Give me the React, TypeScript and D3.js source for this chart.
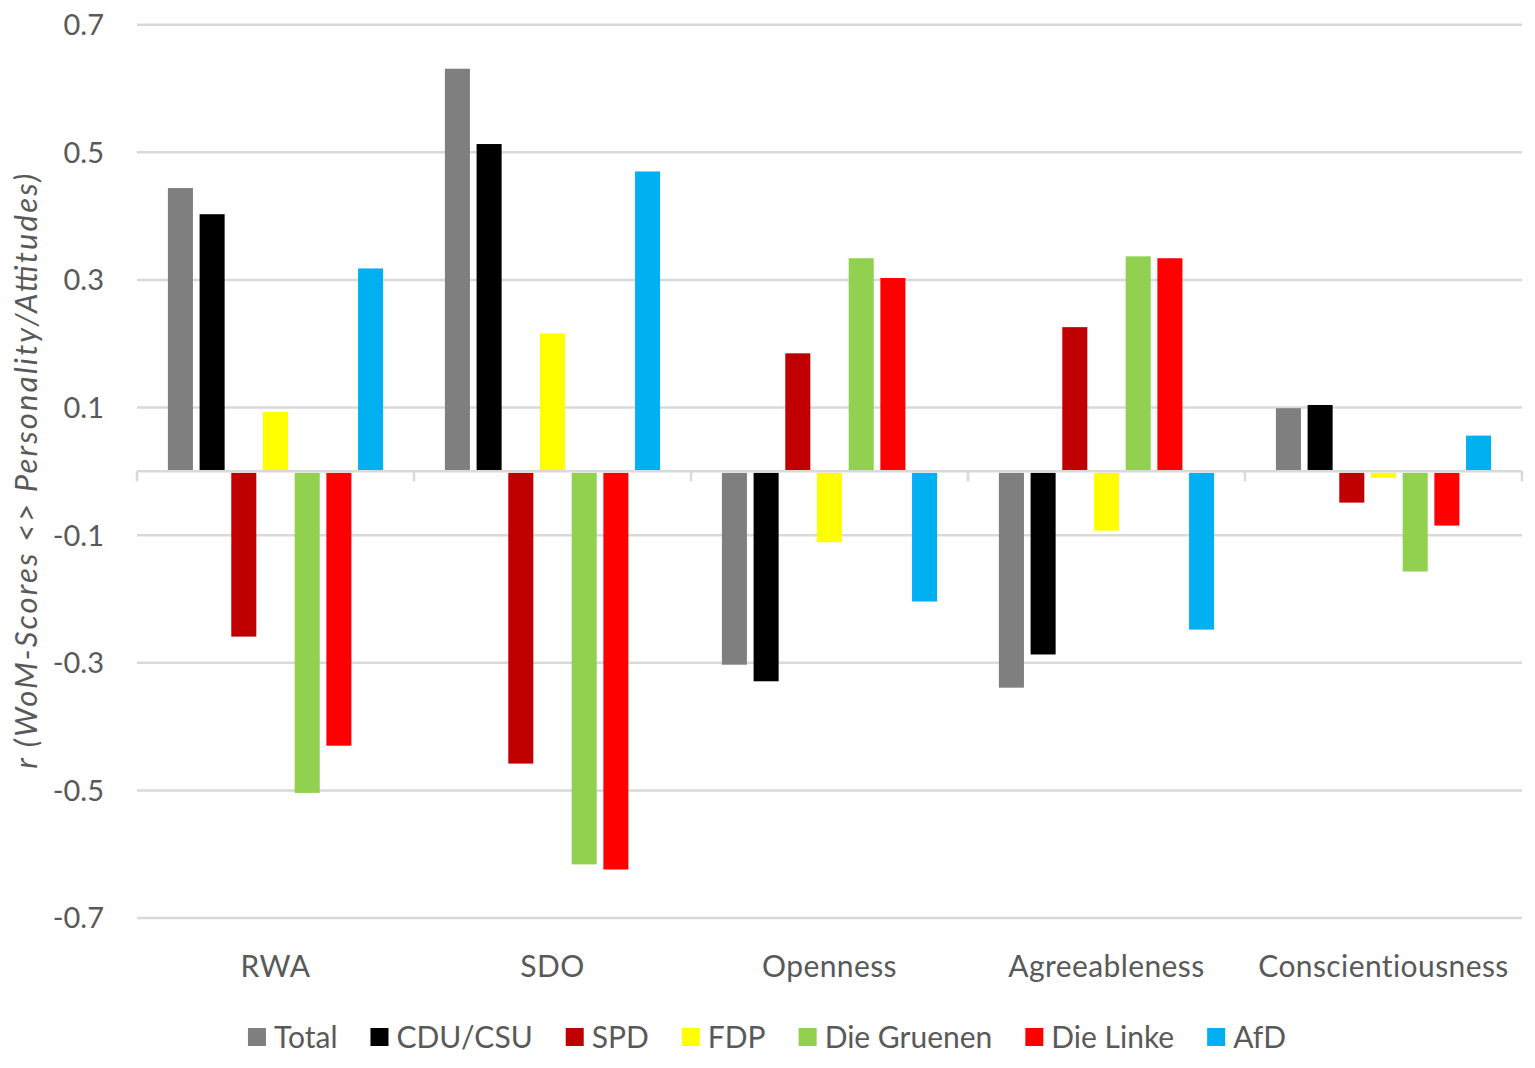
import React, { useEffect, useRef } from "react";
import * as d3 from "d3";

const categories = ["RWA", "SDO", "Openness", "Agreeableness", "Conscientiousness"];
const seriesNames = ["Total", "CDU/CSU", "SPD", "FDP", "Die Gruenen", "Die Linke", "AfD"];
const seriesColors = ["#7f7f7f", "#000000", "#c00000", "#ffff00", "#92d050", "#ff0000", "#00b0f0"];
// values per series, in category order
const totalValues = [0.444, 0.631, -0.303, -0.339, 0.099];
const cduValues = [0.403, 0.513, -0.329, -0.287, 0.104];
const spdValues = [-0.259, -0.458, 0.185, 0.226, -0.049];
const fdpValues = [0.093, 0.216, -0.111, -0.093, -0.010];
const gruenenValues = [-0.504, -0.616, 0.334, 0.337, -0.157];
const linkeValues = [-0.430, -0.624, 0.303, 0.334, -0.085];
const afdValues = [0.318, 0.470, -0.204, -0.248, 0.056];
const yTicks = [-0.7, -0.5, -0.3, -0.1, 0.1, 0.3, 0.5, 0.7];
const yTitle = "r (WoM-Scores <> Personality/Attitudes)";

const allValues = [totalValues, cduValues, spdValues, fdpValues, gruenenValues, linkeValues, afdValues];

const W = 1535;
const H = 1068;
const FONT = "Lato, 'Open Sans', sans-serif";
const TEXT = "#595959";
const GRID = "#d9d9d9";

export default function App() {
  const ref = useRef<SVGSVGElement | null>(null);

  useEffect(() => {
    const svg = d3.select(ref.current);
    svg.selectAll("*").remove();

    const left = 137, right = 1522, top = 24.7, bottom = 918;
    const y = d3.scaleLinear().domain([-0.7, 0.7]).range([bottom, top]);
    const x0 = d3.scaleBand<string>().domain(categories).range([left, right]).paddingInner(0).paddingOuter(0);
    const x1 = d3.scaleBand<string>().domain(seriesNames).range([0, x0.bandwidth()]).paddingInner(0.21).paddingOuter(0.975);

    // gridlines
    svg.append("g").selectAll("line").data(yTicks).join("line")
      .attr("x1", left).attr("x2", right)
      .attr("y1", d => y(d)).attr("y2", d => y(d))
      .attr("stroke", GRID).attr("stroke-width", 2.5);

    // tick labels
    svg.append("g").selectAll("text").data(yTicks).join("text")
      .attr("x", 104).attr("y", d => y(d))
      .attr("dy", "0.36em")
      .attr("text-anchor", "end")
      .attr("font-family", FONT).attr("font-size", 29).attr("fill", TEXT)
      .text(d => d.toFixed(1));

    // bars
    const g = svg.append("g");
    allValues.forEach((vals, si) => {
      g.append("g").selectAll("rect").data(vals).join("rect")
        .attr("x", (_d, ci) => (x0(categories[ci]) as number) + (x1(seriesNames[si]) as number))
        .attr("width", x1.bandwidth())
        .attr("y", d => (d >= 0 ? y(d) : y(0) + 1.5))
        .attr("height", d => Math.max(0, Math.abs(y(d) - y(0)) - (d >= 0 ? 0 : 1.5)))
        .attr("fill", seriesColors[si]);
    });

    // zero axis
    svg.append("line")
      .attr("x1", left).attr("x2", right)
      .attr("y1", y(0)).attr("y2", y(0))
      .attr("stroke", GRID).attr("stroke-width", 2.5);
    const bounds = categories.map(c => x0(c) as number).concat([right]);
    svg.append("g").selectAll("line").data(bounds).join("line")
      .attr("x1", d => d).attr("x2", d => d)
      .attr("y1", y(0)).attr("y2", y(0) + 10)
      .attr("stroke", GRID).attr("stroke-width", 2.5);

    // category labels
    svg.append("g").selectAll("text").data(categories).join("text")
      .attr("x", d => (x0(d) as number) + x0.bandwidth() / 2)
      .attr("y", 977)
      .attr("text-anchor", "middle")
      .attr("font-family", FONT).attr("font-size", 30).attr("letter-spacing", 0.4).attr("fill", TEXT)
      .text(d => d);

    // y title
    svg.append("text")
      .attr("transform", `translate(37, ${(top + bottom) / 2}) rotate(-90)`)
      .attr("text-anchor", "middle")
      .attr("font-family", FONT).attr("font-size", 31).attr("font-style", "italic").attr("fill", TEXT)
      .attr("textLength", 595).attr("lengthAdjust", "spacing")
      .text(yTitle);

    // legend
    const lg = svg.append("g");
    const sw = 18, gapSwText = 8, gapItems = 33;
    const items = seriesNames.map((name, i) => {
      const ig = lg.append("g");
      ig.append("rect").attr("width", sw).attr("height", sw).attr("y", -sw / 2).attr("fill", seriesColors[i]);
      const t = ig.append("text").attr("x", sw + gapSwText).attr("dy", "0.36em")
        .attr("font-family", FONT).attr("font-size", 30).attr("fill", TEXT).text(name);
      const w = (t.node() as SVGTextElement).getComputedTextLength();
      return { ig, w: sw + gapSwText + w };
    });
    const totalW = d3.sum(items, d => d.w) + gapItems * (items.length - 1);
    let cx = 767 - totalW / 2;
    items.forEach(it => {
      it.ig.attr("transform", `translate(${cx}, 1037)`);
      cx += it.w + gapItems;
    });
  }, []);

  return (
    <svg ref={ref} width={W} height={H} style={{ position: "absolute", left: 0, top: 0, background: "#fff" }} />
  );
}
